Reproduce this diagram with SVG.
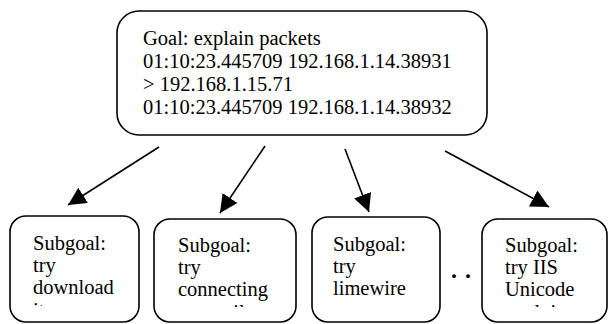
<svg xmlns="http://www.w3.org/2000/svg" width="609" height="324" viewBox="0 0 609 324">
<style>
  .box { fill: #fff; stroke: #000; stroke-width: 1.6; }
  .t { font-family: "Liberation Serif", "Times New Roman", serif; font-size: 20.5px; fill: #000; }
  .edge { stroke: #000; stroke-width: 1.6; fill: none; marker-end: url(#ah); }
</style>
<defs>
  <marker id="ah" markerUnits="userSpaceOnUse" markerWidth="20" markerHeight="20" refX="18" refY="9" orient="auto">
    <path d="M0,0 L18,9 L0,18 z" fill="#000"/>
  </marker>
  <clipPath id="c1"><rect x="10" y="216" width="129" height="90"/></clipPath>
  <clipPath id="c2"><rect x="154" y="219" width="142" height="88"/></clipPath>
  <clipPath id="c3"><rect x="312" y="217" width="128" height="90"/></clipPath>
  <clipPath id="c4"><rect x="482" y="219" width="126" height="88"/></clipPath>
</defs>
<rect width="609" height="324" fill="#fff"/>
<g id="goal">
  <rect class="box" x="117" y="11" width="370" height="124" rx="22"/>
  <text class="t" x="143" y="45">Goal: explain packets</text>
  <text class="t" x="143" y="68">01:10:23.445709 192.168.1.14.38931</text>
  <text class="t" x="143" y="91">&gt; 192.168.1.15.71</text>
  <text class="t" x="143" y="114">01:10:23.445709 192.168.1.14.38932</text>
</g>
<g id="connectors">
  <line class="edge" x1="159" y1="147" x2="68" y2="205"/>
  <line class="edge" x1="265" y1="146" x2="220" y2="213"/>
  <line class="edge" x1="345" y1="149" x2="369" y2="212"/>
  <line class="edge" x1="445" y1="151" x2="549" y2="207"/>
</g>
<g id="sub1">
  <rect class="box" x="10" y="216" width="129" height="106" rx="16"/>
  <g clip-path="url(#c1)">
    <text class="t" x="33" y="250">Subgoal:</text>
    <text class="t" x="33" y="272">try</text>
    <text class="t" x="33" y="294">download</text>
    <text class="t" x="33" y="317">its</text>
  </g>
</g>
<g id="sub2">
  <rect class="box" x="154" y="219" width="142" height="103" rx="16"/>
  <g clip-path="url(#c2)">
    <text class="t" x="178" y="252">Subgoal:</text>
    <text class="t" x="178" y="274">try</text>
    <text class="t" x="178" y="296">connecting</text>
    <text class="t" x="178" y="319">to email</text>
  </g>
</g>
<g id="sub3">
  <rect class="box" x="312" y="217" width="128" height="105" rx="16"/>
  <g clip-path="url(#c3)">
    <text class="t" x="333" y="251">Subgoal:</text>
    <text class="t" x="333" y="273">try</text>
    <text class="t" x="333" y="295">limewire</text>
    <text class="t" x="333" y="318">server</text>
  </g>
</g>
<g id="sub4">
  <rect class="box" x="482" y="219" width="125" height="103" rx="16"/>
  <g clip-path="url(#c4)">
    <text class="t" x="505" y="252">Subgoal:</text>
    <text class="t" x="505" y="274">try IIS</text>
    <text class="t" x="505" y="296">Unicode</text>
    <text class="t" x="505" y="319">exploit</text>
  </g>
</g>
<g id="ellipsis">
  <text x="451" y="278" font-family="Liberation Serif, serif" font-size="24" font-weight="bold" letter-spacing="1">. .</text>
</g>
</svg>
